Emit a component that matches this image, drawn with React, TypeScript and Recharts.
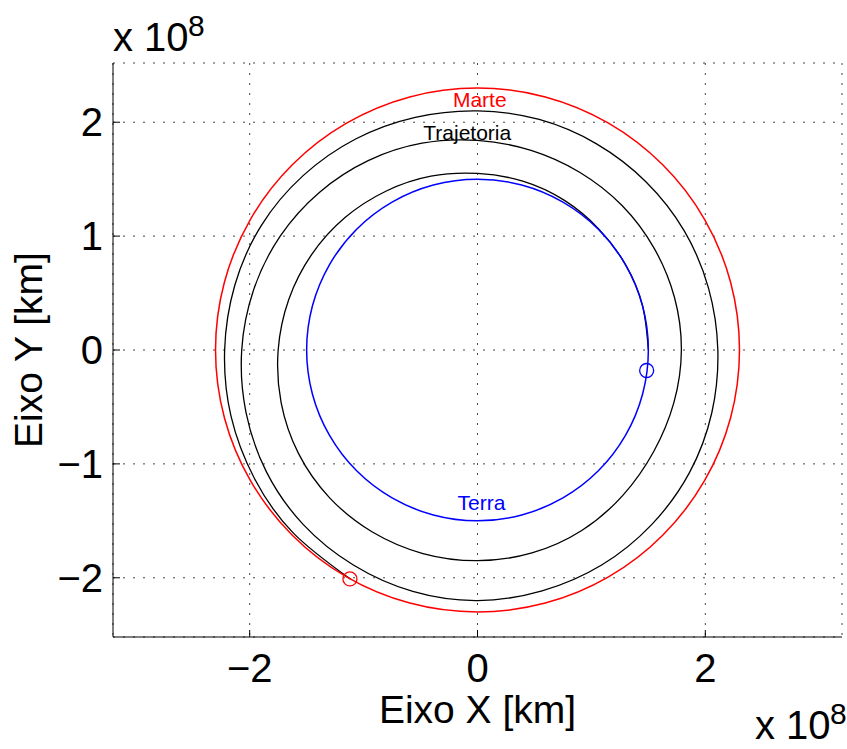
import { ComposedChart, Line, Scatter, XAxis, YAxis, CartesianGrid, ReferenceDot } from 'recharts';

const FONT = '"Liberation Sans", Arial, Helvetica, sans-serif';

// unidades de 10^8 km
const X_TICKS = [-2, 0, 2];
const Y_TICKS = [-2, -1, 0, 1, 2];

const terraPts = [
  [1.5, 0], [1.449, 0.388], [1.299, 0.75], [1.061, 1.061], [0.75, 1.299], [0.388, 1.449],
  [0, 1.5], [-0.388, 1.449], [-0.75, 1.299], [-1.061, 1.061], [-1.299, 0.75], [-1.449, 0.388],
  [-1.5, 0], [-1.449, -0.388], [-1.299, -0.75], [-1.061, -1.061], [-0.75, -1.299], [-0.388, -1.449],
  [0, -1.5], [0.388, -1.449], [0.75, -1.299], [1.061, -1.061], [1.299, -0.75], [1.449, -0.388], [1.5, 0],
];

const martePts = [
  [2.3, 0], [2.222, 0.595], [1.992, 1.15], [1.626, 1.626], [1.15, 1.992], [0.595, 2.222],
  [0, 2.3], [-0.595, 2.222], [-1.15, 1.992], [-1.626, 1.626], [-1.992, 1.15], [-2.222, 0.595],
  [-2.3, 0], [-2.222, -0.595], [-1.992, -1.15], [-1.626, -1.626], [-1.15, -1.992], [-0.595, -2.222],
  [0, -2.3], [0.595, -2.222], [1.15, -1.992], [1.626, -1.626], [1.992, -1.15], [2.222, -0.595], [2.3, 0],
];

const trajetoriaPts = [
  [1.5, 0], [1.449, 0.388], [1.299, 0.75], [1.064, 1.064], [0.76, 1.316], [0.397, 1.483],
  [0, 1.55], [-0.409, 1.526], [-0.805, 1.394], [-1.163, 1.163], [-1.455, 0.84], [-1.657, 0.444],
  [-1.75, 0], [-1.724, -0.462], [-1.572, -0.908], [-1.298, -1.298], [-0.923, -1.598], [-0.479, -1.787],
  [0, -1.85], [0.478, -1.782], [0.915, -1.585], [1.276, -1.276], [1.546, -0.893], [1.724, -0.462],
  [1.79, 0], [1.729, 0.463], [1.55, 0.895], [1.269, 1.269], [0.9, 1.559], [0.47, 1.753],
  [0, 1.84], [-0.487, 1.816], [-0.96, 1.663], [-1.386, 1.386], [-1.732, 1.0], [-1.966, 0.527],
  [-2.07, 0], [-2.033, -0.545], [-1.853, -1.07], [-1.531, -1.531], [-1.09, -1.888], [-0.568, -2.12],
  [0, -2.2], [0.567, -2.115], [1.09, -1.888], [1.531, -1.531], [1.862, -1.075], [2.057, -0.551],
  [2.11, 0], [2.028, 0.543], [1.814, 1.048], [1.478, 1.478], [1.045, 1.81], [0.542, 2.024],
  [0, 2.1], [-0.547, 2.043], [-1.07, 1.853], [-1.531, 1.531], [-1.897, 1.095], [-2.13, 0.571],
  [-2.22, 0], [-2.164, -0.58], [-1.957, -1.13], [-1.612, -1.612], [-1.115, -2.012],
];

const terraMarker = [{ x: 1.485, y: -0.18 }];
const marteMarker = [{ x: -1.12, y: -2.01 }];

const orbitLabels = [
  { text: 'Marte', x: 0.02, y: 2.2, color: '#ff0000' },
  { text: 'Trajetoria', x: -0.09, y: 1.91, color: '#000000' },
  { text: 'Terra', x: 0.035, y: -1.34, color: '#0000ff' },
];

const toXY = (pts: number[][]) => pts.map(([x, y]) => ({ x, y }));

const fmt = (v: number) => (v < 0 ? `\u2212${Math.abs(v)}` : `${v}`);

// Catmull-Rom fechada, para as órbitas não terem bico onde o traço fecha
const closedCurve = (context: any) => {
  let pts: number[][] = [];
  return {
    areaStart() {},
    areaEnd() {},
    lineStart() {
      pts = [];
    },
    point(x: number, y: number) {
      pts.push([x, y]);
    },
    lineEnd() {
      let p = pts;
      const n = p.length;
      if (n < 3) return;
      if (p[0][0] === p[n - 1][0] && p[0][1] === p[n - 1][1]) p = p.slice(0, -1);
      const m = p.length;
      const at = (i: number) => p[(i + m) % m];
      context.moveTo(p[0][0], p[0][1]);
      for (let i = 0; i < m; i++) {
        const p0 = at(i - 1), p1 = at(i), p2 = at(i + 1), p3 = at(i + 2);
        context.bezierCurveTo(
          p1[0] + (p2[0] - p0[0]) / 6, p1[1] + (p2[1] - p0[1]) / 6,
          p2[0] - (p3[0] - p1[0]) / 6, p2[1] - (p3[1] - p1[1]) / 6,
          p2[0], p2[1],
        );
      }
      context.closePath();
    },
  };
};

const ring = (color: string) => (p: any) => (
  <circle cx={p.cx} cy={p.cy} r={7} fill="none" stroke={color} strokeWidth={1.3} />
);

const YLabel = ({ viewBox }: any) => {
  const cx = viewBox.x + 42;
  const cy = viewBox.y + viewBox.height / 2;
  return (
    <text x={cx} y={cy} transform={`rotate(-90 ${cx} ${cy})`} textAnchor="middle" fontSize={39} fill="#000" fontFamily={FONT}>
      Eixo Y [km]
    </text>
  );
};

function Exponent({ left, top }: { left: number; top: number }) {
  return (
    <div style={{ position: 'absolute', left, top, fontFamily: FONT, color: '#000', whiteSpace: 'nowrap' }}>
      <span style={{ fontSize: 40, lineHeight: 1 }}>x 10</span>
      <span style={{ position: 'absolute', left: 75, top: -6, fontSize: 30, lineHeight: 1 }}>8</span>
    </div>
  );
}

export default function App() {
  return (
    <div style={{ position: 'absolute', left: 0, top: 0, width: 847, height: 749, background: '#fff' }}>
      <ComposedChart width={847} height={749} margin={{ top: 63, right: 5, bottom: 0, left: 0 }}>
        <CartesianGrid stroke="#444" strokeDasharray="2 8" />
        <XAxis
          type="number"
          dataKey="x"
          domain={[-3.2, 3.2]}
          ticks={X_TICKS}
          tickFormatter={fmt}
          height={112}
          axisLine={{ stroke: '#000' }}
          tickLine={{ stroke: '#000' }}
          tickSize={-7}
          tickMargin={24}
          tick={{ fontSize: 40, fill: '#000', fontFamily: FONT }}
          allowDataOverflow
          label={{ value: 'Eixo X [km]', position: 'insideBottom', offset: 26, fontSize: 39, fill: '#000', fontFamily: FONT }}
        />
        <YAxis
          type="number"
          dataKey="y"
          domain={[-2.52, 2.52]}
          ticks={Y_TICKS}
          tickFormatter={fmt}
          width={113}
          axisLine={{ stroke: '#000' }}
          tickLine={{ stroke: '#000' }}
          tickSize={-7}
          tickMargin={17}
          tick={{ fontSize: 40, fill: '#000', fontFamily: FONT }}
          allowDataOverflow
          label={{ content: YLabel }}
        />
        <Line data={toXY(trajetoriaPts)} dataKey="y" type="natural" stroke="#000000" strokeWidth={1.3} dot={false} activeDot={false} isAnimationActive={false} />
        <Line data={toXY(terraPts)} dataKey="y" type={closedCurve as any} stroke="#0000ff" strokeWidth={1.5} dot={false} activeDot={false} isAnimationActive={false} />
        <Line data={toXY(martePts)} dataKey="y" type={closedCurve as any} stroke="#ff0000" strokeWidth={1.5} dot={false} activeDot={false} isAnimationActive={false} />
        <Scatter data={terraMarker} dataKey="y" shape={ring('#0000ff')} isAnimationActive={false} />
        <Scatter data={marteMarker} dataKey="y" shape={ring('#ff0000')} isAnimationActive={false} />
        {orbitLabels.map((l) => (
          <ReferenceDot
            key={l.text}
            x={l.x}
            y={l.y}
            r={1}
            fill="none"
            stroke="none"
            label={{ value: l.text, position: 'center', fill: l.color, fontSize: 21, fontFamily: FONT }}
          />
        ))}
      </ComposedChart>
      <Exponent left={113} top={17} />
      <Exponent left={755} top={705} />
    </div>
  );
}
